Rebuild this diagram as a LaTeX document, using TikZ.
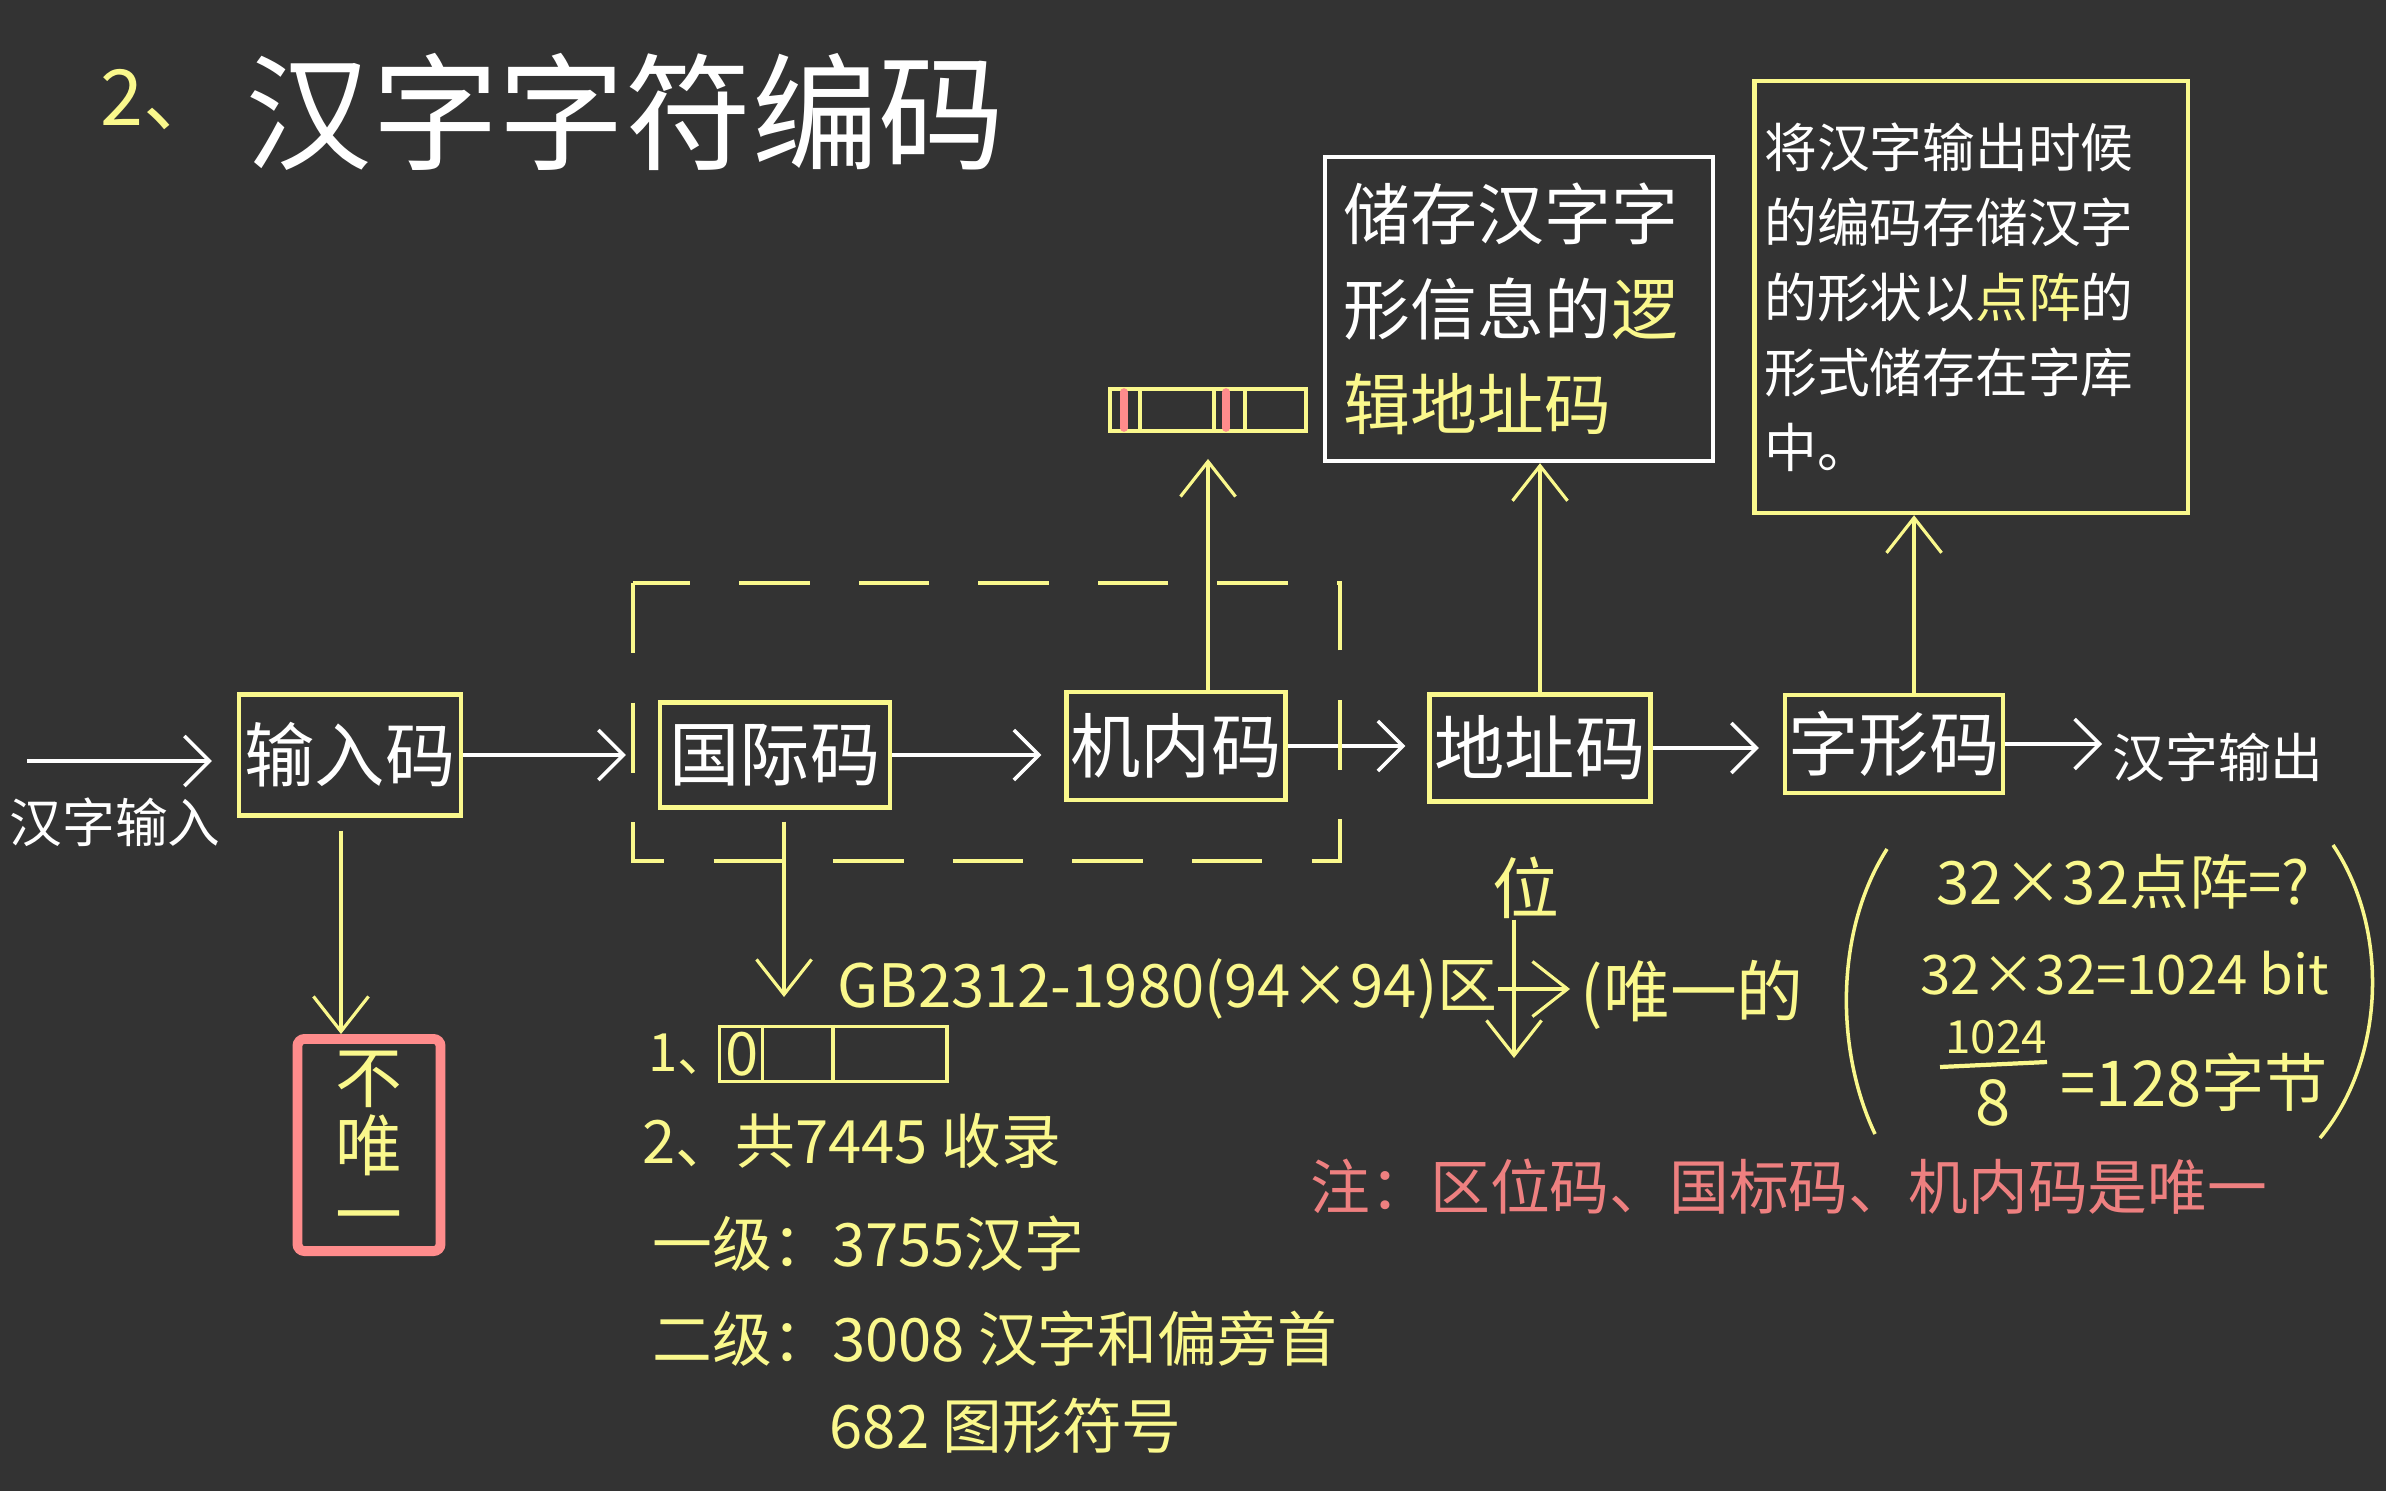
\documentclass[tikz,border=0pt]{standalone}
\usepackage{fontspec}
\setmainfont{Noto Sans CJK SC}
\usepackage{tikz}
\usetikzlibrary{arrows.meta,calc,positioning}
\definecolor{boardgray}{RGB}{51,51,51}
\definecolor{chalkyellow}{RGB}{250,248,140}
\definecolor{chalkpink}{RGB}{255,140,140}
\definecolor{notepink}{RGB}{238,128,128}

\begin{document}
\begin{tikzpicture}[x=0.01cm,y=-0.01cm,
    codebox/.style={draw=chalkyellow,line width=1.2pt,text=white,
        font=\fontsize{20}{24}\selectfont,minimum width=2.2cm,
        minimum height=1.05cm,inner sep=0},
    whitearrow/.style={white,line width=1pt,
        -{Straight Barb[length=2.5mm,width=5mm]},shorten >=0.25cm},
    yellowarrow/.style={chalkyellow,line width=0.9pt,
        -{Straight Barb[length=3.5mm,width=5.5mm]}},
    hand/.style={chalkyellow,font=\fontsize{17}{20}\selectfont,
        anchor=west,inner sep=0}]
    % Board
    \fill[boardgray] (0,0) rectangle (2386,1491);
    \useasboundingbox (0,0) rectangle (2386,1491);

    % Title
    \node[chalkyellow,anchor=west,inner sep=0,font=\fontsize{22}{26}\selectfont]
        (titlenum) at (100,100) {2、};
    \node[white,anchor=west,inner sep=0,font=\fontsize{36}{40}\selectfont]
        (title) at (245,112) {汉字字符编码};

    % The chain of codes
    \node[codebox,minimum width=2.22cm,minimum height=1.21cm] (inbox) at (350,755) {输入码};
    \node[codebox,minimum width=2.3cm] (gbbox) at (775,755) {国际码};
    \node[codebox,minimum width=2.19cm,minimum height=1.08cm] (jnbox) at (1176,746) {机内码};
    \node[codebox,minimum width=2.21cm,minimum height=1.07cm] (dzbox) at (1540,748) {地址码};
    \node[codebox,minimum width=2.18cm,minimum height=0.98cm] (zxbox) at (1894,744) {字形码};

    \coordinate (instart) at (27,761);
    \node[white,inner sep=0,font=\fontsize{15}{18}\selectfont] (hzin) at (115,822) {汉字输入};
    \node[white,anchor=west,inner sep=0,font=\fontsize{15}{18}\selectfont]
        (hzout) at (2112,757) {汉字输出};

    \draw[whitearrow] (instart) -- (instart -| inbox.west);
    \draw[whitearrow,shorten >=0.32cm] (inbox.east) -- (inbox.east -| gbbox.west);
    \draw[whitearrow,shorten >=0.23cm] (gbbox.east) -- (gbbox.east -| jnbox.west);
    \draw[whitearrow,shorten >=0.22cm] (jnbox.east) -- (jnbox.east -| dzbox.west);
    \draw[whitearrow,shorten >=0.24cm] (dzbox.east) -- (dzbox.east -| zxbox.west);
    \draw[whitearrow,shorten >=0.1cm] (zxbox.east) -- (zxbox.east -| hzout.west);

    % Dashed frame round the two unique codes
    \draw[chalkyellow,line width=1pt,dash pattern=on 20pt off 14pt]
        (633,583) rectangle (1340,861);

    % Not unique
    \node[draw=chalkpink,line width=2.8pt,rounded corners=2pt,text=chalkyellow,
        minimum width=1.43cm,minimum height=2.12cm,inner sep=0,align=center,
        font=\fontsize{19}{19.5}\selectfont] (notone) at (369,1145) {不\\唯\\一};
    \draw[yellowarrow,shorten <=0.13cm]
        ([xshift=-0.09cm]inbox.south) -- ([xshift=-0.09cm]inbox.south |- notone.north);

    % Storage bar
    \node[draw=chalkyellow,line width=1.1pt,minimum width=1.96cm,
        minimum height=0.42cm,inner sep=0] (bar) at (1208,410) {};
    \foreach \xx in {0.32,1.06,1.37}
        \draw[chalkyellow,line width=1.1pt]
            ([xshift=\xx cm]bar.north west) -- ([xshift=\xx cm]bar.south west);
    \foreach \xx in {0.16,1.18}
        \draw[chalkpink,line width=2.2pt,line cap=round]
            ([xshift=\xx cm,yshift=-0.05cm]bar.north west)
            -- ([xshift=\xx cm,yshift=0.05cm]bar.south west);
    \draw[yellowarrow,shorten >=0.26cm] (jnbox.north -| bar.south) -- (bar.south);

    % Logic address
    \node[draw=white,line width=1.2pt,text=white,minimum width=3.88cm,
        minimum height=3.04cm,text width=3.5cm,inner xsep=0.19cm,align=left,
        font=\fontsize{19}{27}\selectfont] (logicbox) at (1519,309)
        {储存汉字字\\形信息的\textcolor{chalkyellow}{逻}\\\textcolor{chalkyellow}{辑地址码}};
    \draw[yellowarrow] (dzbox.north) -- (dzbox.north |- logicbox.south);

    % Dot matrix
    \node[draw=chalkyellow,line width=1.2pt,text=white,minimum width=4.33cm,
        minimum height=4.32cm,text width=4.13cm,inner xsep=0.1cm,align=left,
        font=\fontsize{15}{21.3}\selectfont] (dotbox) at (1971,297)
        {将汉字输出时候\\的编码存储汉字\\的形状以\textcolor{chalkyellow}{点阵}的\\形式储存在字库\\中。};
    \draw[yellowarrow] ([xshift=0.2cm]zxbox.north) -- ([xshift=0.2cm]zxbox.north |- dotbox.south);

    % GB2312
    \coordinate (gbtip) at (784,997);
    \draw[yellowarrow,shorten <=0.12cm] (gbbox.south -| gbtip) -- (gbtip);
    \node[hand] (gbtext) at (837,989) {GB2312-1980(94×94)区};
    \coordinate (crossend) at (1570,989);
    \coordinate (crossdown) at (1514,1058);
    \node[chalkyellow,font=\fontsize{19}{22}\selectfont,inner sep=0] (weilabel) at (1526,888) {位};
    \draw[yellowarrow] (gbtext.east) -- (crossend);
    \draw[yellowarrow] (weilabel.south -| crossdown) -- (crossdown);
    \node[hand,font=\fontsize{19}{22}\selectfont] (unique) at (1580,995) {(唯一的};

    % List
    \node[hand,font=\fontsize{15}{18}\selectfont] (listone) at (648,1054) {1、};
    \node[draw=chalkyellow,line width=1.1pt,minimum width=2.27cm,
        minimum height=0.55cm,inner sep=0] (cells) at (833,1054) {};
    \foreach \xx in {0.45,1.15}
        \draw[chalkyellow,line width=1.1pt]
            ([xshift=\xx cm]cells.north west) -- ([xshift=\xx cm]cells.south west);
    \node[hand,anchor=center] (zero) at (742,1054) {0};
    \node[hand] (listtwo) at (642,1141) {2、共7445 收录};
    \node[hand] (levelone) at (652,1244) {一级：3755汉字};
    \node[hand] (leveltwo) at (652,1339) {二级：3008 汉字和偏旁首};
    \node[hand] (symbols) at (829,1426) {682 图形符号};

    % Dot matrix size
    \draw[chalkyellow,line width=1pt] (1887,849) .. controls (1835,930) and (1835,1050) .. (1875,1134);
    \draw[chalkyellow,line width=1pt] (2333,845) .. controls (2390,930) and (2385,1060) .. (2320,1138);
    \node[hand,font=\fontsize{17}{20}\selectfont] (sizeq) at (1936,882) {32×32点阵=?};
    \node[hand,font=\fontsize{15.5}{18}\selectfont] (bits) at (1920,973) {32×32=1024 bit};
    \node[hand,anchor=center,font=\fontsize{13}{15}\selectfont] (numer) at (1996,1037) {1024};
    \node[hand,anchor=center,font=\fontsize{18}{21}\selectfont] (denom) at (1993,1103) {8};
    \draw[chalkyellow,line width=1.2pt] (1940,1067) -- (2047,1062);
    \node[hand,font=\fontsize{18}{21}\selectfont] (bytes) at (2060,1082) {=128字节};

    % Note
    \node[hand,notepink] (note) at (1310,1187) {注：区位码、国标码、机内码是唯一};
\end{tikzpicture}
\end{document}
